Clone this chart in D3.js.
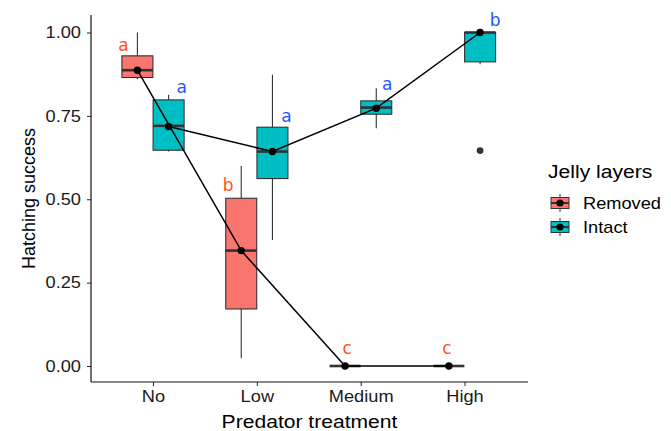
<!DOCTYPE html>
<html>
<head>
<meta charset="utf-8">
<script src="https://cdn.jsdelivr.net/npm/d3@7"></script>
<style>
	body { margin: 0; background: #fff; }
	svg { font-family: "Liberation Sans", Arial, sans-serif; }
</style>
</head>
<body>
<div id="vizHolder"></div>
<script>
var	treatments = ['No', 'Low', 'Medium', 'High'],
		layers = ['Removed', 'Intact'],
		yTicks = [0, 0.25, 0.5, 0.75, 1];

// box stats per treatment: [whiskerLow, q1, median, q3, whiskerHigh]
var removedBoxes = [
	[0.86, 0.865, 0.887, 0.93, 1.0],
	[0.023, 0.171, 0.346, 0.503, 0.60],
	[0, 0, 0, 0, 0],
	[0, 0, 0, 0, 0]
];
var intactBoxes = [
	[0.643, 0.647, 0.72, 0.798, 0.813],
	[0.378, 0.562, 0.643, 0.716, 0.873],
	[0.713, 0.755, 0.775, 0.795, 0.833],
	[0.905, 0.912, 1.0, 1.0, 1.0]
];
var removedMeans = [0.887, 0.346, 0, 0];
var intactMeans = [0.718, 0.643, 0.773, 1.0];
var intactOutliers = [[], [], [], [0.646]];

// significance letters and the height they sit at
var removedLetters = ['a', 'b', 'c', 'c'];
var intactLetters = ['a', 'a', 'a', 'b'];
var removedLetterY = [0.963, 0.543, 0.055, 0.055];
var intactLetterY = [0.837, 0.748, 0.846, 1.037];

var width = 671, height = 431;
var colors = { Removed: '#F8766D', Intact: '#00BFC4' };
var letterColors = { Removed: '#FF5022', Intact: '#1F55FF' };
var panel = { left: 91, right: 528, top: 15, bottom: 382 };
var stretch = 'scale(1.14,1)'; // source image is a little wider than tall

var xScale = d3.scalePoint()
	.domain(treatments)
	.range([153, 464.5]);

var yScale = d3.scaleLinear()
	.domain([0, 1])
	.range([366, 32.5]);

var dodge = 15.6, boxW = 31;

var svg = d3.select('#vizHolder')
	.append('svg')
	.attr('width', width)
	.attr('height', height);

function wideText(g, x, y) {
	return g.append('text').attr('transform', 'translate(' + x + ',' + y + ') ' + stretch);
}

// axes
var yAxis = svg.append('g')
	.attr('transform', 'translate(' + panel.left + ',0)')
	.call(d3.axisLeft(yScale).tickValues(yTicks).tickFormat(d3.format('.2f')).tickSize(4).tickSizeOuter(0));
yAxis.select('.domain').attr('d', 'M0,' + panel.top + 'V' + panel.bottom);

var xAxis = svg.append('g')
	.attr('transform', 'translate(0,' + panel.bottom + ')')
	.call(d3.axisBottom(xScale).tickSize(4).tickSizeOuter(0));
xAxis.select('.domain').attr('d', 'M' + panel.left + ',0H' + panel.right);

svg.selectAll('.tick line').attr('stroke', '#222');
svg.selectAll('.domain').attr('stroke', '#111').attr('stroke-width', 1.2);
yAxis.selectAll('.tick text')
	.attr('font-size', 16).attr('fill', '#1a1a1a').attr('x', 0)
	.attr('transform', 'translate(-10,0) ' + stretch)
	.attr('font-family', '"Liberation Sans", Arial, sans-serif');
xAxis.selectAll('.tick text')
	.attr('font-size', 16).attr('fill', '#1a1a1a').attr('y', 9)
	.attr('transform', stretch)
	.attr('font-family', '"Liberation Sans", Arial, sans-serif');

svg.append('text')
	.attr('transform', 'translate(35,' + ((panel.top + panel.bottom) / 2) + ') rotate(-90)')
	.attr('text-anchor', 'middle')
	.attr('font-size', 18)
	.text('Hatching success');

wideText(svg, (panel.left + panel.right) / 2, 428)
	.attr('text-anchor', 'middle')
	.attr('font-size', 18.5)
	.text('Predator treatment');

// boxes
function drawBoxes(boxes, layer, offset) {
	var g = svg.append('g');
	boxes.forEach(function(b, i) {
		var cx = xScale(treatments[i]) + offset;
		g.append('line')
			.attr('x1', cx).attr('x2', cx)
			.attr('y1', yScale(b[0])).attr('y2', yScale(b[4]))
			.attr('stroke', '#333').attr('stroke-width', 1.1);
		g.append('rect')
			.attr('x', cx - boxW / 2)
			.attr('y', yScale(b[3]))
			.attr('width', boxW)
			.attr('height', Math.max(0, yScale(b[1]) - yScale(b[3])))
			.attr('fill', colors[layer])
			.attr('stroke', '#333').attr('stroke-width', 1.1);
		g.append('line')
			.attr('x1', cx - boxW / 2).attr('x2', cx + boxW / 2)
			.attr('y1', yScale(b[2])).attr('y2', yScale(b[2]))
			.attr('stroke', '#333').attr('stroke-width', 2.6);
	});
}
drawBoxes(removedBoxes, 'Removed', -dodge);
drawBoxes(intactBoxes, 'Intact', dodge);

intactOutliers.forEach(function(list, i) {
	list.forEach(function(v) {
		svg.append('circle')
			.attr('cx', xScale(treatments[i]) + dodge)
			.attr('cy', yScale(v))
			.attr('r', 3.4)
			.attr('fill', '#333');
	});
});

// mean lines + points
function drawMeans(means, offset) {
	var line = d3.line()
		.x(function(d, i) { return xScale(treatments[i]) + offset; })
		.y(function(d) { return yScale(d); });
	svg.append('path')
		.attr('d', line(means))
		.attr('fill', 'none')
		.attr('stroke', '#000')
		.attr('stroke-width', 1.5);
	svg.append('g').selectAll('circle')
		.data(means)
		.enter()
		.append('circle')
		.attr('cx', function(d, i) { return xScale(treatments[i]) + offset; })
		.attr('cy', function(d) { return yScale(d); })
		.attr('r', 3.7)
		.attr('fill', '#000');
}
drawMeans(removedMeans, -dodge);
drawMeans(intactMeans, dodge);

// letters
var removedNudge = [-14, -13, 2, -2];
var intactNudge = [13, 14, 11, 15];
function drawLetters(letters, ys, layer, offset, nudge) {
	svg.append('g').selectAll('text')
		.data(letters)
		.enter()
		.append('text')
		.attr('x', function(d, i) { return xScale(treatments[i]) + offset + nudge[i]; })
		.attr('y', function(d, i) { return yScale(ys[i]); })
		.attr('dy', '0.35em')
		.attr('text-anchor', 'middle')
		.attr('font-family', '"DejaVu Sans", Verdana, sans-serif')
		.attr('font-size', 17)
		.attr('fill', letterColors[layer])
		.text(function(d) { return d; });
}
drawLetters(removedLetters, removedLetterY, 'Removed', -dodge, removedNudge);
drawLetters(intactLetters, intactLetterY, 'Intact', dodge, intactNudge);

// legend
var legend = svg.append('g').attr('transform', 'translate(548,0)');
wideText(legend, 0, 178)
	.attr('font-size', 18.5)
	.text('Jelly layers');

layers.forEach(function(l, i) {
	var cy = 203 + i * 24, kx = 12;
	legend.append('line')
		.attr('x1', kx).attr('x2', kx)
		.attr('y1', cy - 9).attr('y2', cy + 9)
		.attr('stroke', '#333').attr('stroke-width', 1);
	legend.append('rect')
		.attr('x', kx - 9).attr('y', cy - 5.5)
		.attr('width', 18).attr('height', 11)
		.attr('fill', colors[l])
		.attr('stroke', '#333').attr('stroke-width', 1);
	legend.append('line')
		.attr('x1', kx - 9).attr('x2', kx + 9)
		.attr('y1', cy).attr('y2', cy)
		.attr('stroke', '#333').attr('stroke-width', 2);
	legend.append('circle')
		.attr('cx', kx).attr('cy', cy)
		.attr('r', 3.5).attr('fill', '#000');
	wideText(legend, 35, cy)
		.attr('dy', '0.35em')
		.attr('font-size', 16)
		.text(l);
});
</script>
</body>
</html>
